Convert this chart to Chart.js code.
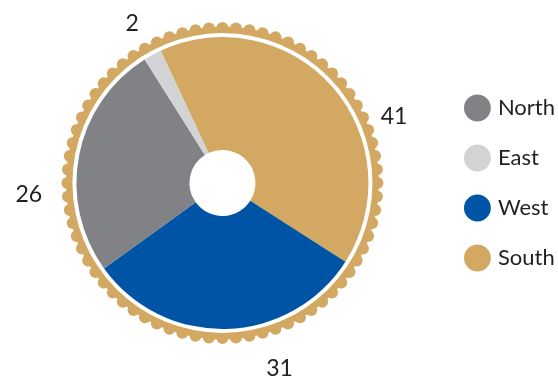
<!DOCTYPE html>
<html><head><meta charset="utf-8">
<script src="https://cdn.jsdelivr.net/npm/chart.js@4/dist/chart.umd.min.js"></script>
<style>html,body{margin:0;padding:0;background:#fff}#wrap{width:558px;height:378px;position:relative}</style>
</head><body><div id="wrap"><canvas id="c" width="558" height="378"></canvas></div>
<script>
// Slices in clockwise drawing order (starting just left of the top)
const categories = ['South', 'West', 'North', 'East'];
const values = [41, 31, 26, 2];
const sliceColors = ['#D3A862', '#0054A6', '#808285', '#D1D3D4'];
// Legend order as shown
const legendOrder = ['North', 'East', 'West', 'South'];

const TEXT = '#231F20';
const FONT = 'Lato';

const ringPlugin = {
  id: 'scallopRing',
  beforeDatasetsDraw(chart) {
    const arc = chart.getDatasetMeta(0).data[0];
    if (!arc) return;
    const {x, y, outerRadius} = arc.getProps(['x', 'y', 'outerRadius'], true);
    const ctx = chart.ctx;
    const tan = sliceColors[0];
    const dotCenterR = outerRadius + 9;
    const dotR = 6;
    const n = 72;
    ctx.save();
    ctx.fillStyle = tan;
    ctx.beginPath();
    ctx.arc(x, y, outerRadius + 10.5, 0, Math.PI * 2);
    ctx.fill();
    for (let i = 0; i < n; i++) {
      const a = (i / n) * Math.PI * 2;
      ctx.beginPath();
      ctx.arc(x + dotCenterR * Math.cos(a), y + dotCenterR * Math.sin(a), dotR, 0, Math.PI * 2);
      ctx.fill();
    }
    ctx.fillStyle = '#FFFFFF';
    ctx.beginPath();
    ctx.arc(x, y, outerRadius + 4, 0, Math.PI * 2);
    ctx.fill();
    ctx.restore();
  }
};

const valueLabelPlugin = {
  id: 'valueLabels',
  afterDatasetsDraw(chart, args, opts) {
    const meta = chart.getDatasetMeta(0);
    const ctx = chart.ctx;
    ctx.save();
    ctx.font = opts.size + 'px ' + FONT;
    ctx.fillStyle = TEXT;
    ctx.textAlign = 'center';
    ctx.textBaseline = 'middle';
    meta.data.forEach((arc, i) => {
      const p = arc.getProps(['x', 'y', 'startAngle', 'endAngle', 'outerRadius'], true);
      const mid = (p.startAngle + p.endAngle) / 2 + (opts.angleShift[i] || 0) * Math.PI / 180;
      const r = p.outerRadius + opts.gap[i];
      ctx.fillText(String(chart.data.datasets[0].data[i]), p.x + r * Math.cos(mid), p.y + r * Math.sin(mid));
    });
    ctx.restore();
  }
};

new Chart(document.getElementById('c'), {
  type: 'doughnut',
  data: {
    labels: categories,
    datasets: [{
      data: values,
      backgroundColor: sliceColors,
      borderWidth: 0,
      hoverOffset: 0
    }]
  },
  options: {
    responsive: false,
    devicePixelRatio: 1,
    animation: false,
    rotation: -25,
    cutout: '22.6%',
    layout: { padding: { top: 37, bottom: 49, left: 5, right: -7 } },
    plugins: {
      tooltip: { enabled: false },
      valueLabels: {
        size: 23,
        angleShift: [20, -15.5, -14.5, -1],
        gap: [38, 48, 48, 37]
      },
      legend: {
        position: 'right',
        labels: {
          usePointStyle: true,
          pointStyle: 'circle',
          boxWidth: 19,
          boxHeight: 19,
          padding: 28,
          color: TEXT,
          font: { family: FONT, size: 22 },
          sort: (a, b) => legendOrder.indexOf(a.text) - legendOrder.indexOf(b.text)
        }
      }
    }
  },
  plugins: [ringPlugin, valueLabelPlugin]
});
</script>
</body></html>
